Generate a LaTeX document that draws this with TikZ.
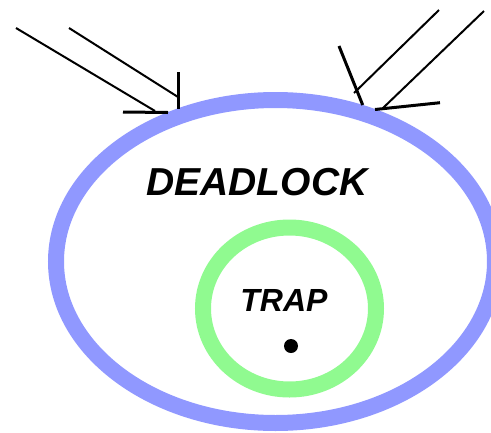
\documentclass[tikz,border=0pt]{standalone}
\usepackage{fontspec}
\setmainfont{Liberation Sans}
\usetikzlibrary{shapes.geometric}
\definecolor{deadblue}{RGB}{144,152,255}
\definecolor{trapgreen}{RGB}{144,250,144}
\tikzset{
  region/.style={ellipse, line width=16pt, inner sep=0pt, outer sep=0pt},
  caption/.style={inner sep=0pt, font=\bfseries\itshape},
  ray/.style={line width=2pt, black},
  bar/.style={line width=3pt, black},
}
\begin{document}
\begin{tikzpicture}[x=1pt, y=-1pt]
  \useasboundingbox (0,0) rectangle (491,432);
  \clip (0,0) rectangle (491,432);

  % deadlock region and the trap inside it
  \node[region, draw=deadblue, minimum width=439pt, minimum height=323pt] (deadlock) at (275.5,261.5) {};
  \node[region, draw=trapgreen, minimum width=173pt, minimum height=162pt] (trap) at (289.5,308.5) {};
  \node[caption, font=\bfseries\itshape\fontsize{39}{39}\selectfont] (deadlocktext) at (257,182) {DEADLOCK};
  \node[caption, font=\bfseries\itshape\fontsize{32}{32}\selectfont] (traptext) at (284,300.5) {TRAP};
  \node[circle, fill=black, inner sep=0pt, minimum size=14pt] (token) at (291,346) {};

  % incoming transitions on the upper left
  \coordinate (la1) at (16,28);
  \coordinate (lb1) at (155,111);
  \coordinate (la2) at (69,28);
  \coordinate (lb2) at (178,97);
  \coordinate (lh1) at (123,112);
  \coordinate (lh2) at (168,112.5);
  \coordinate (lv1) at (178,72);
  \coordinate (lv2) at (178,108.5);
  \draw[ray] (la1) -- (lb1);
  \draw[ray] (la2) -- (lb2);
  \draw[bar] (lh1) -- (lh2);
  \draw[bar] (lv1) -- (lv2);

  % incoming transitions on the upper right
  \coordinate (ra1) at (439,10);
  \coordinate (rb1) at (354,93);
  \coordinate (ra2) at (484,11);
  \coordinate (rb2) at (383,108);
  \coordinate (rs1) at (339,46);
  \coordinate (rs2) at (362.7,105);
  \coordinate (rt1) at (375,109.5);
  \coordinate (rt2) at (440,102.7);
  \draw[ray] (ra1) -- (rb1);
  \draw[ray] (ra2) -- (rb2);
  \draw[bar] (rs1) -- (rs2);
  \draw[bar] (rt1) -- (rt2);
\end{tikzpicture}
\end{document}
